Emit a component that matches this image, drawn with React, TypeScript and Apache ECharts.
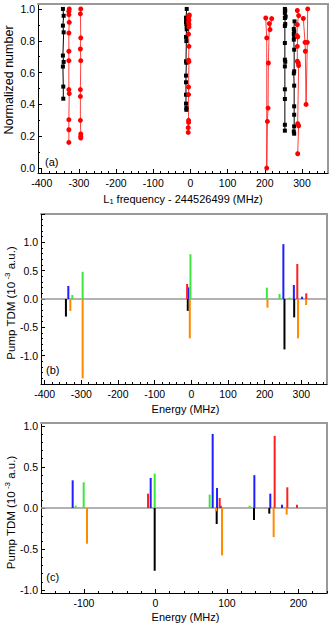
import React, { useEffect, useRef } from 'react';
import * as echarts from 'echarts';

const FONT = '"Liberation Sans", Arial, Helvetica, sans-serif';

// ---------- Panel (a): normalized number vs L1 frequency ----------
const aBlack1 = [[-343, 1.0], [-341, 0.957], [-343, 0.895], [-341, 0.853], [-343, 0.707], [-341, 0.667], [-343, 0.638], [-342, 0.512], [-342, 0.436]];
const aRed1 = [[-326, 1.0], [-327, 0.985], [-327, 0.964], [-326, 0.916], [-327, 0.849], [-327, 0.734], [-327, 0.675], [-327, 0.493], [-326, 0.468], [-327, 0.304], [-327, 0.241], [-327, 0.161]];
const aRed2 = [[-295, 1.0], [-296, 0.969], [-295, 0.818], [-296, 0.748], [-295, 0.675], [-296, 0.493], [-296, 0.45], [-296, 0.3], [-295, 0.214], [-295, 0.199], [-295, 0.189]];
const aBlack0 = [[-10, 1.0], [-12, 0.945], [-11, 0.93], [-12, 0.918], [-11, 0.905], [-10, 0.89], [-10, 0.872], [-12, 0.824], [-11, 0.798], [-12, 0.671], [-11, 0.662], [-12, 0.581], [-12, 0.539], [-12, 0.461], [-12, 0.405], [-11, 0.377], [-11, 0.366]];
const aRed0 = [[-3, 0.962], [-4, 0.954], [-5, 0.943], [-4, 0.93], [-5, 0.918], [-4, 0.903], [-4, 0.887], [-5, 0.842], [-4, 0.765], [-5, 0.678], [-4, 0.669], [-5, 0.509], [-5, 0.462], [-5, 0.3], [-5, 0.287], [-6, 0.254], [-6, 0.224]];
const aRed3 = [[202.5, 0.943], [205.2, 0.818], [205.2, 0.0], [207, 0.293], [208.8, 0.377], [209.6, 0.66], [212.3, 0.908], [214.1, 0.87], [218.6, 0.939]];
const aBlack3 = [[254, 1.0], [255, 0.99], [254, 0.975], [256, 0.952], [254, 0.943], [255, 0.905], [254, 0.893], [254, 0.786], [254, 0.681], [255, 0.668], [254, 0.639], [254, 0.495], [254, 0.434], [254, 0.272], [254, 0.235]];
const aBlack4 = [[280, 0.922], [278, 0.874], [279, 0.859], [278, 0.843], [279, 0.824], [278, 0.807], [279, 0.744], [279, 0.608], [278, 0.595], [279, 0.518], [279, 0.388], [279, 0.335], [279, 0.262], [278, 0.23], [279, 0.216]];
const aRed4 = [[287.5, 0.99], [291, 0.958], [287.5, 0.901], [286.6, 0.832], [288.4, 0.824], [287.5, 0.765], [287.5, 0.671], [290, 0.66], [291, 0.644], [288.5, 0.279], [291, 0.266], [288.5, 0.09]];
const aRed5 = [[303.7, 0.94], [308.2, 0.79], [309, 0.734], [311, 0.4], [314.4, 0.79], [315.4, 1.0]];

const aBlackSeries = [aBlack1, aBlack0, aBlack3, aBlack4];
const aRedSeries = [aRed1, aRed2, aRed0, aRed3, aRed4, aRed5];

// ---------- Panel (b): pump TDM ----------
const bBlack = [[-342, -0.31], [-9.7, -0.21], [254, -0.89], [280.5, -0.324]];
const bBlue = [[-335.5, 0.23], [-7.9, 0.206], [251, 0.968], [279.6, 0.247], [302, 0.04]];
const bOrange = [[-330, -0.21], [-296.4, -1.4], [-4.2, -0.694], [207.7, -0.153], [291, -0.694], [313, -0.106]];
const bGreen = [[-324.6, 0.07], [-296.4, 0.48], [-2.4, 0.79], [206, 0.2], [240.6, 0.088], [267.8, 0.024]];
const bRed = [[-11.5, 0.265], [289, 0.618], [313.4, 0.1]];

// ---------- Panel (c): pump TDM ----------
const cBlue = [[-115.7, 0.337], [-6.6, 0.366], [80.1, 0.902], [86.2, 0.244], [91.3, 0.028], [138.4, 0.4], [160.7, 0.175], [177.1, 0.04]];
const cGreen = [[-111.5, 0.028], [-100.3, 0.313], [-1, 0.419], [75.9, 0.163], [131.8, 0.028], [154.2, 0.01]];
const cOrange = [[-95.7, -0.435], [84.8, -0.04], [93.2, -0.577], [165.4, -0.354], [183.6, -0.08]];
const cRed = [[-10.3, 0.175], [89.9, 0.122], [166.8, 0.878], [184.5, 0.252], [198, 0.04]];
const cBlack = [[-1, -0.764], [85.7, -0.195], [137.9, -0.146], [159.3, -0.069]];

// ---------- ticks ----------
const aXTicks = [-400, -300, -200, -100, 0, 100, 200, 300];
const aYTicks = [0, 0.2, 0.4, 0.6, 0.8, 1.0];
const bXTicks = [-400, -300, -200, -100, 0, 100, 200, 300];
const bYTicks = [-1.5, -1.0, -0.5, 0, 0.5, 1.0, 1.5];
const bYLabels = [-1.0, -0.5, 0, 0.5, 1.0];
const cXTicks = [-100, 0, 100, 200];
const cYTicks = [-1.0, -0.5, 0, 0.5, 1.0];

function steps(start: number, end: number, step: number): number[] {
  const out: number[] = [];
  const n = Math.round((end - start) / step);
  for (let i = 0; i <= n; i++) out.push(Math.round((start + i * step) * 1000) / 1000);
  return out;
}

const COLORS = {
  black: '#000000',
  blue: '#1f1fff',
  green: '#3ce83c',
  red: '#ff1f1f',
  orange: '#ff8a00',
};

const PANELS = [
  { left: 38, top: 4, width: 290, height: 169, xMin: -410, xMax: 370, yMin: -0.031, yMax: 1.031,
    xTicks: aXTicks, xLabels: aXTicks, xMinor: steps(-400, 360, 20),
    yTicks: aYTicks, yLabels: aYTicks, yMinor: steps(0, 1, 0.1) },
  { left: 41, top: 214, width: 286, height: 170, xMin: -410, xMax: 370, yMin: -1.5, yMax: 1.5,
    xTicks: bXTicks, xLabels: bXTicks, xMinor: steps(-400, 360, 20),
    yTicks: bYTicks, yLabels: bYLabels, yMinor: steps(-1.5, 1.5, 0.1) },
  { left: 41, top: 423, width: 286, height: 170, xMin: -160, xMax: 240, yMin: -1.035, yMax: 1.035,
    xTicks: cXTicks, xLabels: cXTicks, xMinor: steps(-160, 240, 20),
    yTicks: cYTicks, yLabels: cYTicks, yMinor: steps(-1, 1, 0.1) },
];

function buildAxes() {
  const xAxis: any[] = [];
  const yAxis: any[] = [];
  PANELS.forEach((p, gi) => {
    const labelStyle = { color: '#000', fontSize: 10.5, fontFamily: FONT };
    xAxis.push({
      type: 'value', gridIndex: gi, min: p.xMin, max: p.xMax, position: 'bottom',
      axisLine: { show: true, onZero: false, lineStyle: { color: '#000', width: 1 } },
      axisTick: { show: true, inside: true, length: 4, customValues: p.xTicks, lineStyle: { color: '#000', width: 1 } },
      axisLabel: { show: true, customValues: p.xLabels, margin: 4, ...labelStyle, formatter: (v: number) => String(v) },
      splitLine: { show: false },
    });
    xAxis.push({
      type: 'value', gridIndex: gi, min: p.xMin, max: p.xMax, position: 'bottom',
      axisLine: { show: false, onZero: false },
      axisTick: { show: true, inside: true, length: 2, customValues: p.xMinor, lineStyle: { color: '#000', width: 1 } },
      axisLabel: { show: false }, splitLine: { show: false },
    });
    xAxis.push({
      type: 'value', gridIndex: gi, min: p.xMin, max: p.xMax, position: 'top',
      axisLine: { show: true, onZero: false, lineStyle: { color: '#999', width: 2 } },
      axisTick: { show: false }, axisLabel: { show: false }, splitLine: { show: false },
    });
    yAxis.push({
      type: 'value', gridIndex: gi, min: p.yMin, max: p.yMax, position: 'left',
      axisLine: { show: true, onZero: false, lineStyle: { color: '#000', width: 1 } },
      axisTick: { show: true, inside: true, length: 4, customValues: p.yTicks, lineStyle: { color: '#000', width: 1 } },
      axisLabel: { show: true, customValues: p.yLabels, margin: 3, ...labelStyle, formatter: (v: number) => v.toFixed(1) },
      splitLine: { show: false },
    });
    yAxis.push({
      type: 'value', gridIndex: gi, min: p.yMin, max: p.yMax, position: 'left',
      axisLine: { show: false, onZero: false },
      axisTick: { show: true, inside: true, length: 2, customValues: p.yMinor, lineStyle: { color: '#000', width: 1 } },
      axisLabel: { show: false }, splitLine: { show: false },
    });
    yAxis.push({
      type: 'value', gridIndex: gi, min: p.yMin, max: p.yMax, position: 'right',
      axisLine: { show: true, onZero: false, lineStyle: { color: '#999', width: 2 } },
      axisTick: { show: false }, axisLabel: { show: false }, splitLine: { show: false },
    });
  });
  return { xAxis, yAxis };
}

function barSeries(data: number[][], color: string, gi: number, withZero: boolean) {
  const s: any = {
    type: 'custom',
    xAxisIndex: gi * 3,
    yAxisIndex: gi * 3,
    data,
    encode: { x: 0, y: 1 },
    clip: true,
    z: 3,
    renderItem: (params: any, api: any) => {
      const x = api.value(0);
      const v = api.value(1);
      const p0 = api.coord([x, 0]);
      const p1 = api.coord([x, v]);
      return {
        type: 'rect',
        shape: { x: p0[0] - 1, y: Math.min(p0[1], p1[1]), width: 2, height: Math.abs(p1[1] - p0[1]) },
        style: { fill: color },
      };
    },
  };
  if (withZero) {
    s.markLine = {
      silent: true,
      symbol: 'none',
      label: { show: false },
      lineStyle: { color: '#999', width: 1.5, type: 'solid' },
      data: [{ yAxis: 0 }],
      z: 2,
    };
  }
  return s;
}

function lineSeries(data: number[][], color: string, symbol: string, size: number, lineOpacity: number) {
  return {
    type: 'line',
    xAxisIndex: 0,
    yAxisIndex: 0,
    data,
    symbol,
    symbolSize: size,
    showSymbol: true,
    lineStyle: { color, width: 1, opacity: lineOpacity },
    itemStyle: { color },
    z: 3,
  };
}

export default function App() {
  const ref = useRef<HTMLDivElement>(null);
  useEffect(() => {
    if (!ref.current) return;
    const chart = echarts.init(ref.current, undefined, { renderer: 'svg' });
    const { xAxis, yAxis } = buildAxes();
    const series: any[] = [];
    aBlackSeries.forEach((d) => series.push(lineSeries(d, '#000000', 'rect', 4, 1)));
    aRedSeries.forEach((d) => series.push(lineSeries(d, '#ff0000', 'circle', 5, 0.75)));
    series.push(barSeries(bBlack, COLORS.black, 1, true));
    series.push(barSeries(bBlue, COLORS.blue, 1, false));
    series.push(barSeries(bOrange, COLORS.orange, 1, false));
    series.push(barSeries(bGreen, COLORS.green, 1, false));
    series.push(barSeries(bRed, COLORS.red, 1, false));
    series.push(barSeries(cBlack, COLORS.black, 2, true));
    series.push(barSeries(cBlue, COLORS.blue, 2, false));
    series.push(barSeries(cOrange, COLORS.orange, 2, false));
    series.push(barSeries(cGreen, COLORS.green, 2, false));
    series.push(barSeries(cRed, COLORS.red, 2, false));

    const txt = (x: number, y: number, text: string, size: number, rot = 0, rich?: any) => ({
      type: 'text',
      x, y,
      rotation: rot,
      z: 10,
      style: {
        text, fontSize: size, fontFamily: FONT, fill: '#000',
        textAlign: 'center', textVerticalAlign: 'middle', align: 'center', verticalAlign: 'middle',
        rich,
      },
    });
    const pumpRich = {
      n: { fontSize: 11.5, fontFamily: FONT, fill: '#000', lineHeight: 14 },
      sup: { fontSize: 8, fontFamily: FONT, fill: '#000', verticalAlign: 'top', lineHeight: 8 },
    };
    const lRich = {
      n: { fontSize: 11, fontFamily: FONT, fill: '#000', lineHeight: 14 },
      sub: { fontSize: 7.5, fontFamily: FONT, fill: '#000', verticalAlign: 'bottom', lineHeight: 8 },
    };
    const pumpText = '{n|Pump TDM (10}{sup| -3}{n| a.u.)}';

    chart.setOption({
      animation: false,
      backgroundColor: '#ffffff',
      grid: PANELS.map((p) => ({ left: p.left, top: p.top, width: p.width, height: p.height, containLabel: false, outerBoundsMode: 'none' })),
      xAxis,
      yAxis,
      series,
      graphic: [
        txt(8.5, 80, 'Normalized number', 12.5, Math.PI / 2),
        txt(183, 198.5, '{n|L}{sub|1}{n| frequency - 244526499 (MHz)}', 11, 0, lRich),
        txt(10.5, 303, pumpText, 11.5, Math.PI / 2, pumpRich),
        txt(10.5, 512.5, pumpText, 11.5, Math.PI / 2, pumpRich),
        txt(185.5, 409, 'Energy (MHz)', 11),
        txt(185.5, 616.5, 'Energy (MHz)', 11),
        txt(51.7, 161.5, '(a)', 11),
        txt(52.7, 370, '(b)', 11),
        txt(52.7, 576.5, '(c)', 11),
      ],
    });
    return () => chart.dispose();
  }, []);
  return <div ref={ref} style={{ position: 'fixed', left: 0, top: 0, width: 332, height: 626, background: '#fff' }} />;
}
